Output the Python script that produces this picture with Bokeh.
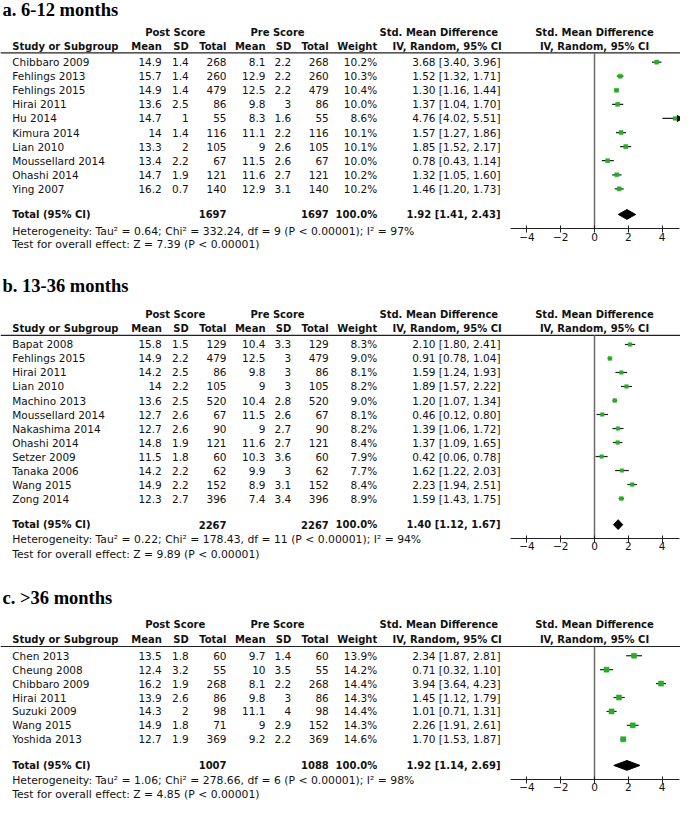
import math
from bokeh.plotting import figure
from bokeh.models import Range1d, LinearAxis, FixedTicker
from bokeh.core.properties import value
from bokeh.embed import file_html
from bokeh.resources import INLINE

# ---------------- data ----------------
A_title = "a. 6-12 months"
A_study = ["Chibbaro 2009", "Fehlings 2013", "Fehlings 2015", "Hirai 2011", "Hu 2014",
           "Kimura 2014", "Lian 2010", "Moussellard 2014", "Ohashi 2014", "Ying 2007"]
A_post_mean = [14.9, 15.7, 14.9, 13.6, 14.7, 14, 13.3, 13.4, 14.7, 16.2]
A_post_sd = [1.4, 1.4, 1.4, 2.5, 1, 1.4, 2, 2.2, 1.9, 0.7]
A_post_n = [268, 260, 479, 86, 55, 116, 105, 67, 121, 140]
A_pre_mean = [8.1, 12.9, 12.5, 9.8, 8.3, 11.1, 9, 11.5, 11.6, 12.9]
A_pre_sd = [2.2, 2.2, 2.2, 3, 1.6, 2.2, 2.6, 2.6, 2.7, 3.1]
A_pre_n = [268, 260, 479, 86, 55, 116, 105, 67, 121, 140]
A_weight = [10.2, 10.3, 10.4, 10.0, 8.6, 10.1, 10.1, 10.0, 10.2, 10.2]
A_smd = [3.68, 1.52, 1.30, 1.37, 4.76, 1.57, 1.85, 0.78, 1.32, 1.46]
A_lo = [3.40, 1.32, 1.16, 1.04, 4.02, 1.27, 1.52, 0.43, 1.05, 1.20]
A_hi = [3.96, 1.71, 1.44, 1.70, 5.51, 1.86, 2.17, 1.14, 1.60, 1.73]
A_total = [1697, 1697]
A_pooled = [1.92, 1.41, 2.43]
A_het = "Heterogeneity: Tau\u00b2 = 0.64; Chi\u00b2 = 332.24, df = 9 (P < 0.00001); I\u00b2 = 97%"
A_test = "Test for overall effect: Z = 7.39 (P < 0.00001)"

B_title = "b. 13-36 months"
B_study = ["Bapat 2008", "Fehlings 2015", "Hirai 2011", "Lian 2010", "Machino 2013",
           "Moussellard 2014", "Nakashima 2014", "Ohashi 2014", "Setzer 2009",
           "Tanaka 2006", "Wang 2015", "Zong 2014"]
B_post_mean = [15.8, 14.9, 14.2, 14, 13.6, 12.7, 12.7, 14.8, 11.5, 14.2, 14.9, 12.3]
B_post_sd = [1.5, 2.2, 2.5, 2.2, 2.5, 2.6, 2.6, 1.9, 1.8, 2.2, 2.2, 2.7]
B_post_n = [129, 479, 86, 105, 520, 67, 90, 121, 60, 62, 152, 396]
B_pre_mean = [10.4, 12.5, 9.8, 9, 10.4, 11.5, 9, 11.6, 10.3, 9.9, 8.9, 7.4]
B_pre_sd = [3.3, 3, 3, 3, 2.8, 2.6, 2.7, 2.7, 3.6, 3, 3.1, 3.4]
B_pre_n = [129, 479, 86, 105, 520, 67, 90, 121, 60, 62, 152, 396]
B_weight = [8.3, 9.0, 8.1, 8.2, 9.0, 8.1, 8.2, 8.4, 7.9, 7.7, 8.4, 8.9]
B_smd = [2.10, 0.91, 1.59, 1.89, 1.20, 0.46, 1.39, 1.37, 0.42, 1.62, 2.23, 1.59]
B_lo = [1.80, 0.78, 1.24, 1.57, 1.07, 0.12, 1.06, 1.09, 0.06, 1.22, 1.94, 1.43]
B_hi = [2.41, 1.04, 1.93, 2.22, 1.34, 0.80, 1.72, 1.65, 0.78, 2.03, 2.51, 1.75]
B_total = [2267, 2267]
B_pooled = [1.40, 1.12, 1.67]
B_het = "Heterogeneity: Tau\u00b2 = 0.22; Chi\u00b2 = 178.43, df = 11 (P < 0.00001); I\u00b2 = 94%"
B_test = "Test for overall effect: Z = 9.89 (P < 0.00001)"

C_title = "c. >36 months"
C_study = ["Chen 2013", "Cheung 2008", "Chibbaro 2009", "Hirai 2011", "Suzuki 2009",
           "Wang 2015", "Yoshida 2013"]
C_post_mean = [13.5, 12.4, 16.2, 13.9, 14.3, 14.9, 12.7]
C_post_sd = [1.8, 3.2, 1.9, 2.6, 2, 1.8, 1.9]
C_post_n = [60, 55, 268, 86, 98, 71, 369]
C_pre_mean = [9.7, 10, 8.1, 9.8, 11.1, 9, 9.2]
C_pre_sd = [1.4, 3.5, 2.2, 3, 4, 2.9, 2.2]
C_pre_n = [60, 55, 268, 86, 98, 152, 369]
C_weight = [13.9, 14.2, 14.4, 14.3, 14.4, 14.3, 14.6]
C_smd = [2.34, 0.71, 3.94, 1.45, 1.01, 2.26, 1.70]
C_lo = [1.87, 0.32, 3.64, 1.12, 0.71, 1.91, 1.53]
C_hi = [2.81, 1.10, 4.23, 1.79, 1.31, 2.61, 1.87]
C_total = [1007, 1088]
C_pooled = [1.92, 1.14, 2.69]
C_het = "Heterogeneity: Tau\u00b2 = 1.06; Chi\u00b2 = 278.66, df = 6 (P < 0.00001); I\u00b2 = 98%"
C_test = "Test for overall effect: Z = 4.85 (P < 0.00001)"

AXIS_TICKS = [-4, -2, 0, 2, 4]
AXIS_BOUNDS = (-5, 5)

# ---------------- layout (pixel positions) ----------------
X0, X1 = 0, 680
ZERO_PX, UNIT_PX = 594.0, 16.9
COL = dict(study=11.7, post_m=161.3, post_sd=188.3, post_n=226, pre_m=265, pre_sd=290.7,
           pre_n=328.3, weight=376.7, ci=500)
FONT = "DejaVu Sans"
GREEN = "#27ad27"

p = figure(width=680, height=800, x_range=Range1d(X0, X1), y_range=Range1d(814, 0),
           output_backend="svg", toolbar_location=None, x_axis_type=None, y_axis_type=None,
           min_border=0, outline_line_color=None)
p.extra_x_ranges = {"smd": Range1d((X0 - ZERO_PX) / UNIT_PX, (X1 - ZERO_PX) / UNIT_PX)}


def txt(x, ys, texts, align="left", bold=False, size=None, font=FONT, color="#111111"):
    p.text(x=x, y=list(ys), text=list(texts), text_align=align, text_baseline="middle",
           text_font=value(font), text_font_style="bold" if bold else "normal",
           text_font_size=size or ("10px" if bold else "10.5px"), text_color=color)


def fmt(v):
    return f"{v:g}"


def panel(title, lay, study, pm, psd, pn, qm, qsd, qn, w, smd, lo, hi, tot, pooled, het, test):
    title_y, h1, h2, line_y, row0, step, tot_y, het_y, test_y, axis_y = lay
    txt(2, [title_y], [title], bold=True, size="18.5px", font="Liberation Serif", color="black")
    # header
    txt(174.7, [h1], ["Post Score"], align="center", bold=True)
    txt(277, [h1], ["Pre Score"], align="center", bold=True)
    txt(438.3, [h1], ["Std. Mean Difference"], align="center", bold=True)
    txt(ZERO_PX, [h1], ["Std. Mean Difference"], align="center", bold=True)
    txt(COL["study"], [h2], ["Study or Subgroup"], bold=True)
    for key, lab in [("post_m", "Mean"), ("post_sd", "SD"), ("post_n", "Total"),
                     ("pre_m", "Mean"), ("pre_sd", "SD"), ("pre_n", "Total"),
                     ("weight", "Weight")]:
        txt(COL[key], [h2], [lab], align="right", bold=True)
    txt(446.7, [h2], ["IV, Random, 95% CI"], align="center", bold=True)
    txt(ZERO_PX, [h2], ["IV, Random, 95% CI"], align="center", bold=True)
    p.segment(x0=[X0], y0=[line_y], x1=[X1], y1=[line_y], line_color="#222222", line_width=1.2)
    # rows
    ys = [row0 + i * step for i in range(len(study))]
    txt(COL["study"], ys, study)
    txt(COL["post_m"], ys, [fmt(v) for v in pm], align="right")
    txt(COL["post_sd"], ys, [fmt(v) for v in psd], align="right")
    txt(COL["post_n"], ys, [fmt(v) for v in pn], align="right")
    txt(COL["pre_m"], ys, [fmt(v) for v in qm], align="right")
    txt(COL["pre_sd"], ys, [fmt(v) for v in qsd], align="right")
    txt(COL["pre_n"], ys, [fmt(v) for v in qn], align="right")
    txt(COL["weight"], ys, [f"{v:.1f}%" for v in w], align="right")
    txt(COL["ci"], ys, [f"{a:.2f} [{b:.2f}, {c:.2f}]" for a, b, c in zip(smd, lo, hi)], align="right")
    # total
    txt(COL["study"], [tot_y], ["Total (95% CI)"], bold=True)
    txt(COL["post_n"], [tot_y], [fmt(tot[0])], align="right", bold=True)
    txt(COL["pre_n"], [tot_y], [fmt(tot[1])], align="right", bold=True)
    txt(COL["weight"], [tot_y], ["100.0%"], align="right", bold=True)
    txt(COL["ci"], [tot_y], [f"{pooled[0]:.2f} [{pooled[1]:.2f}, {pooled[2]:.2f}]"], align="right", bold=True)
    txt(COL["study"], [het_y], [het], size="10.8px")
    txt(COL["study"], [test_y], [test], size="10.8px")
    # forest
    p.segment(x0=[0], y0=[line_y], x1=[0], y1=[axis_y], x_range_name="smd",
              line_color="#6b6b6b", line_width=1.5)
    hi_c = [min(h, AXIS_BOUNDS[1]) for h in hi]
    p.segment(x0=lo, y0=ys, x1=hi_c, y1=ys, x_range_name="smd", line_color="#222222", line_width=1.2)
    arr = [(AXIS_BOUNDS[1], y) for h, y in zip(hi, ys) if h > AXIS_BOUNDS[1]]
    if arr:
        p.scatter(x=[a[0] for a in arr], y=[a[1] for a in arr], marker="triangle",
                  angle=-math.pi / 2, size=6, color="black", x_range_name="smd")
    p.scatter(x=smd, y=ys, marker="square", size=[1.5 + 0.25 * v for v in w],
              fill_color=GREEN, line_color=GREEN, line_width=0.5, x_range_name="smd")
    est, plo, phi = pooled
    p.patch(x=[plo, est, phi, est], y=[tot_y, tot_y - 5, tot_y, tot_y + 5],
            x_range_name="smd", fill_color="black", line_color="black")
    ax = LinearAxis(x_range_name="smd", fixed_location=axis_y, bounds=AXIS_BOUNDS,
                    ticker=FixedTicker(ticks=AXIS_TICKS), major_tick_in=3, major_tick_out=4,
                    minor_tick_line_color=None, axis_line_color="#222222",
                    major_tick_line_color="#222222", major_label_standoff=0,
                    major_label_text_font=FONT, major_label_text_font_size="10.5px",
                    major_label_text_color="#111111")
    p.add_layout(ax, "below")


panel(A_title, (9.5, 32.7, 46.7, 53.3, 62.7, 14.33, 217.7, 235, 248.3, 232.3),
      A_study, A_post_mean, A_post_sd, A_post_n, A_pre_mean, A_pre_sd, A_pre_n,
      A_weight, A_smd, A_lo, A_hi, A_total, A_pooled, A_het, A_test)
panel(B_title, (290.3, 319.3, 333.3, 340.7, 350, 14.25, 533.3, 548.5, 563.3, 547.3),
      B_study, B_post_mean, B_post_sd, B_post_n, B_pre_mean, B_pre_sd, B_pre_n,
      B_weight, B_smd, B_lo, B_hi, B_total, B_pooled, B_het, B_test)
panel(C_title, (607.5, 635, 650, 657.3, 666.7, 14.17, 778.3, 793.3, 808.3, 792.3),
      C_study, C_post_mean, C_post_sd, C_post_n, C_pre_mean, C_pre_sd, C_pre_n,
      C_weight, C_smd, C_lo, C_hi, C_total, C_pooled, C_het, C_test)

open("out.html", "w").write(file_html(p, INLINE))
